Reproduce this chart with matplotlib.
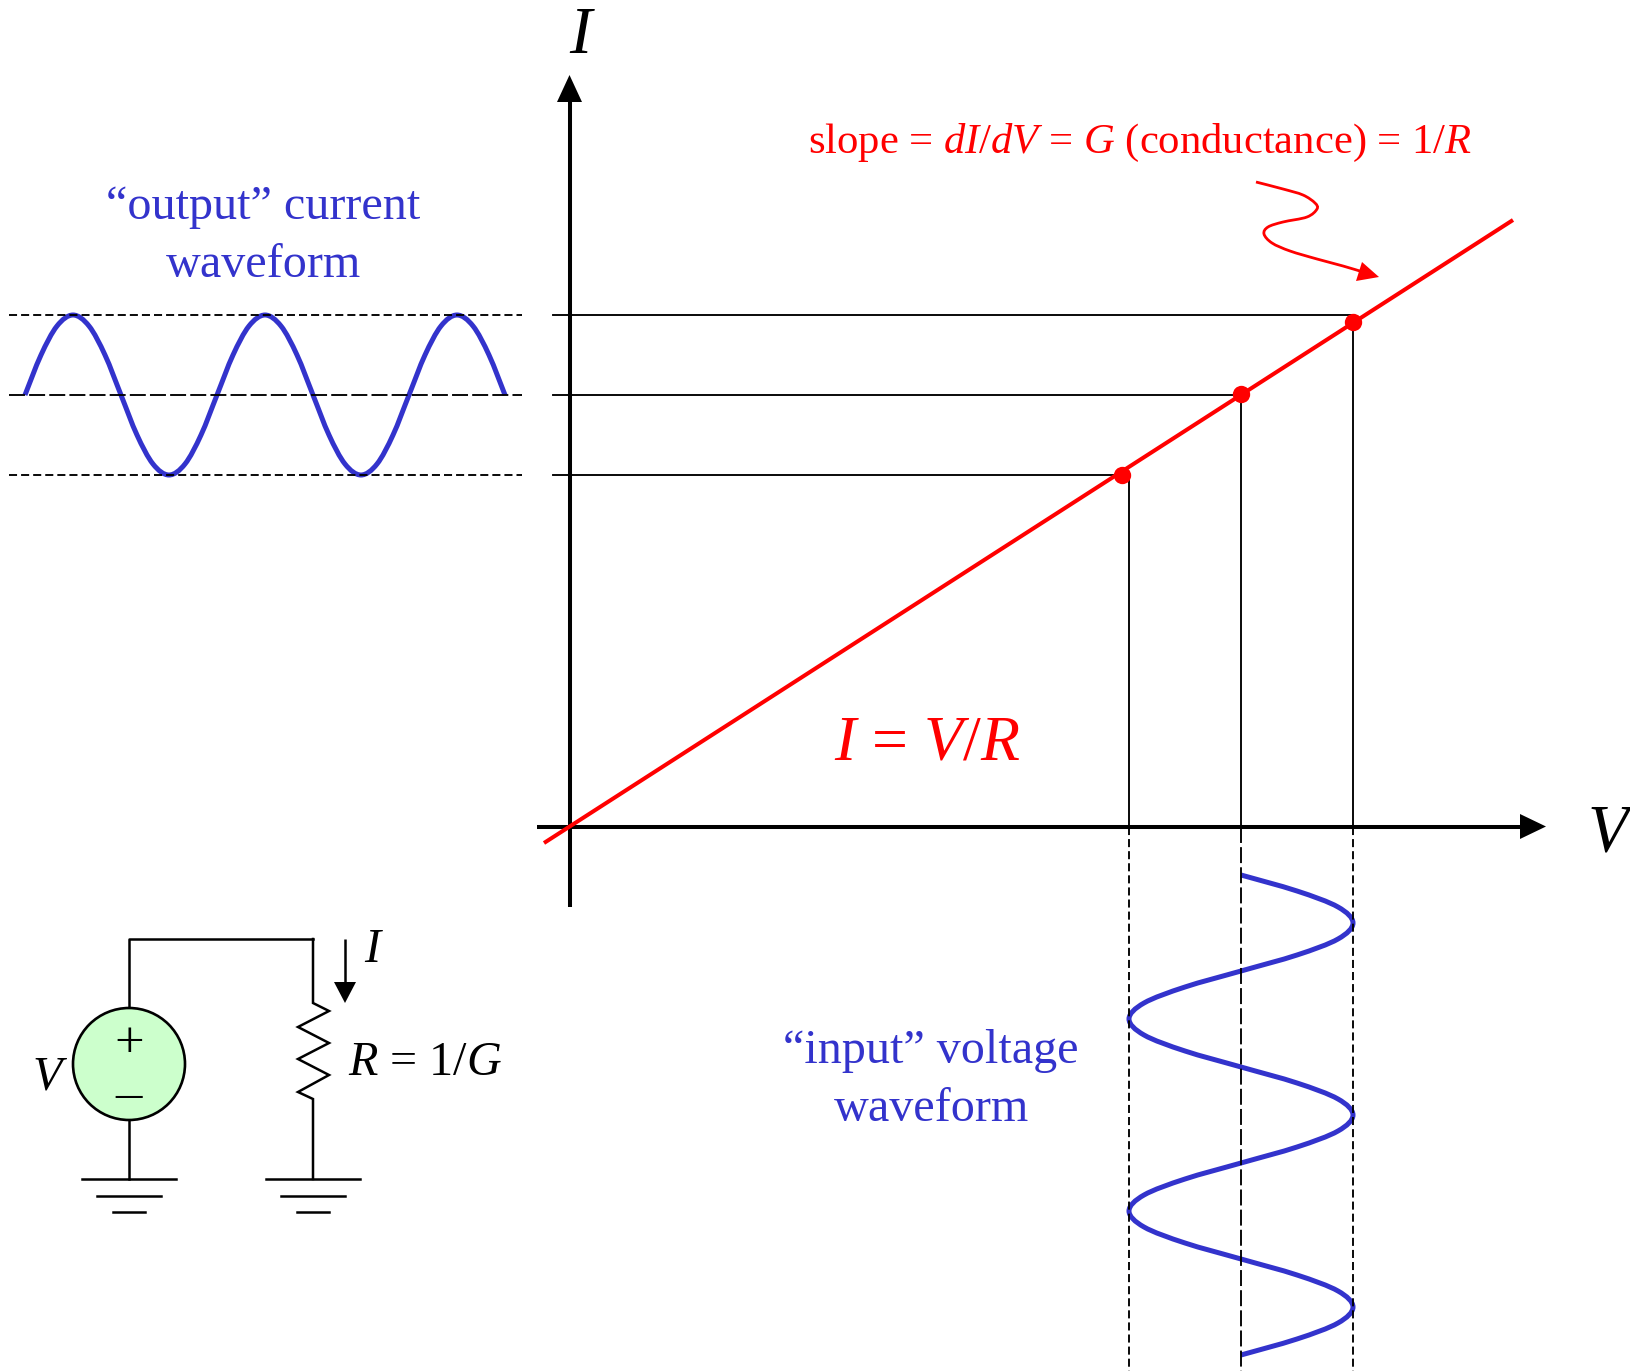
import matplotlib
matplotlib.use('Agg')
import matplotlib.pyplot as plt
from matplotlib.path import Path
from matplotlib.patches import PathPatch, Polygon, Circle

plt.rcParams['font.family'] = ['Liberation Serif', 'DejaVu Serif']
plt.rcParams['mathtext.fontset'] = 'custom'
plt.rcParams['mathtext.rm'] = 'Liberation Serif'
plt.rcParams['mathtext.it'] = 'Liberation Serif:italic'
plt.rcParams['lines.scale_dashes'] = False

BLUE = '#3333CC'
RED = '#FF0000'

# everything in pixels
iv_x = [544, 1513]
iv_y = [843, 220]
op_v = [1122, 1241, 1353]
op_i = [475, 394, 322]
guide_v = [1129, 1241, 1353]
guide_i = [315, 395, 475]

output_x = [25, 41, 57, 73, 89, 105, 121, 137, 153, 169, 185, 201, 217, 233, 249, 265,
            281, 297, 313, 329, 345, 361, 377, 393, 409, 425, 441, 457, 473, 489, 505]
output_y = [395, 355, 326, 315, 326, 355, 395, 435, 464, 475, 464, 435, 395, 355, 326, 315,
            326, 355, 395, 435, 464, 475, 464, 435, 395, 355, 326, 315, 326, 355, 395]

input_x = [1241, 1297, 1338, 1353, 1338, 1297, 1241, 1185, 1144, 1129, 1144, 1185, 1241, 1297, 1338, 1353,
           1338, 1297, 1241, 1185, 1144, 1129, 1144, 1185, 1241, 1297, 1338, 1353, 1338, 1297, 1241]
input_y = [875, 891, 907, 923, 939, 955, 971, 987, 1003, 1019, 1035, 1051, 1067, 1083, 1099, 1115,
           1131, 1147, 1163, 1179, 1195, 1211, 1227, 1243, 1259, 1275, 1291, 1307, 1323, 1339, 1355]

squiggle_x = [1256, 1283, 1303, 1315, 1317, 1307, 1283, 1268, 1264, 1272, 1290, 1317, 1343, 1363]
squiggle_y = [182, 189, 195, 203, 209, 217, 222, 227, 234, 243, 251, 259, 266, 272]

resistor_x = [313, 313, 329, 298, 329, 298, 329, 298, 313, 313]
resistor_y = [939, 1003, 1011, 1027, 1043, 1059, 1075, 1092, 1099, 1179]

ground_x = [129, 313]
ground_half = [47, 32, 16]
ground_y = [1179, 1195.5, 1211.5]


def smooth(ax, xs, ys, **kw):
    # catmull-rom through the points, as bezier segments
    pts = list(zip(xs, ys))
    verts = [pts[0]]
    codes = [Path.MOVETO]
    for i in range(len(pts) - 1):
        p0 = pts[max(i - 1, 0)]
        p1 = pts[i]
        p2 = pts[i + 1]
        p3 = pts[min(i + 2, len(pts) - 1)]
        verts.append((p1[0] + (p2[0] - p0[0]) / 6, p1[1] + (p2[1] - p0[1]) / 6))
        verts.append((p2[0] - (p3[0] - p1[0]) / 6, p2[1] - (p3[1] - p1[1]) / 6))
        verts.append(p2)
        codes += [Path.CURVE4] * 3
    ax.add_patch(PathPatch(Path(verts, codes), fill=False, **kw))


fig = plt.figure(figsize=(16.3, 13.71), dpi=100)
ax = fig.add_axes([0, 0, 1, 1])
ax.set_xlim(0, 1630)
ax.set_ylim(1371, 0)
ax.axis('off')

short_dash = (0, (5.8, 2.9))
long_dash = (0, (11.5, 3.0))

# guides from the curve to the axes
for v, i, g_v, g_i in zip(op_v[::-1], op_i[::-1], guide_v[::-1], guide_i):
    ax.plot([553, v], [g_i, g_i], color='black', lw=1.35)
    ax.plot([g_v, g_v], [g_i, 827], color='black', lw=1.35)
    style = long_dash if g_i == 395 else short_dash
    ax.plot([9, 522], [g_i, g_i], color='black', lw=1.35, ls=style)
    style = long_dash if g_v == 1241 else short_dash
    ax.plot([g_v, g_v], [827, 1371], color='black', lw=1.35, ls=style)

# axes with arrows
ax.plot([569.5, 569.5], [907, 95], color='black', lw=2.9, solid_capstyle='butt')
ax.plot([537, 1525], [826.5, 826.5], color='black', lw=2.9, solid_capstyle='butt')
ax.add_patch(Polygon([(569.5, 75), (557, 102), (582, 102)], color='black', lw=0))
ax.add_patch(Polygon([(1546, 826.5), (1520, 814), (1520, 839)], color='black', lw=0))

ax.plot(iv_x, iv_y, color=RED, lw=2.9, solid_capstyle='butt')
ax.plot(op_v, op_i, 'o', color=RED, ms=12.5, mew=0, ls='none')

smooth(ax, squiggle_x, squiggle_y, edgecolor=RED, lw=2.0)
ax.add_patch(Polygon([(1379, 277), (1362, 262), (1356, 281)], color=RED, lw=0))

smooth(ax, output_x, output_y, edgecolor=BLUE, lw=3.6, capstyle='butt')
smooth(ax, input_x, input_y, edgecolor=BLUE, lw=3.6, capstyle='butt')

# circuit
ax.plot([129, 129, 313], [1064, 939, 939], color='black', lw=1.8)
ax.plot([129, 129], [1064, 1179], color='black', lw=1.8)
ax.plot(resistor_x, resistor_y, color='black', lw=1.8, solid_joinstyle='miter')
ax.add_patch(Circle((129, 1064), 56, facecolor='#CCFFCC', edgecolor='black', lw=1.9, zorder=3))
for gx in ground_x:
    for half, gy in zip(ground_half, ground_y):
        ax.plot([gx - half, gx + half], [gy, gy], color='black', lw=1.8)
ax.plot([345, 345], [939, 985], color='black', lw=1.8, solid_capstyle='butt')
ax.add_patch(Polygon([(345, 1003), (334, 982), (356, 982)], color='black', lw=0))

# text
ax.text(263, 219, '“output” current', color=BLUE, fontsize=34.7, ha='center', va='baseline')
ax.text(263, 277, 'waveform', color=BLUE, fontsize=34.7, ha='center', va='baseline')
ax.text(931, 1063, '“input” voltage', color=BLUE, fontsize=34.7, ha='center', va='baseline')
ax.text(931, 1121, 'waveform', color=BLUE, fontsize=34.7, ha='center', va='baseline')
ax.text(808, 153, 'slope = $dI$/$dV$ = $G$ (conductance) = 1/$R$', color=RED, fontsize=30.7,
        ha='left', va='baseline')
ax.text(834, 760, '$I$ = $V$/$R$', color=RED, fontsize=46, ha='left', va='baseline')
ax.text(580, 53, 'I', style='italic', fontsize=48, ha='center', va='baseline')
ax.text(1608, 850, 'V', style='italic', fontsize=48, ha='center', va='baseline')
ax.text(47, 1090, 'V', style='italic', fontsize=34.7, ha='center', va='baseline')
ax.text(372, 962, 'I', style='italic', fontsize=34.7, ha='center', va='baseline')
ax.text(348, 1075, '$R$ = 1/$G$', fontsize=34.7, ha='left', va='baseline')
ax.text(129, 1044, '+', fontsize=38, ha='center', va='center', zorder=4)
ax.text(129, 1096, '–', fontsize=38, ha='center', va='center', zorder=4)

fig.savefig('out.png', dpi=100)
